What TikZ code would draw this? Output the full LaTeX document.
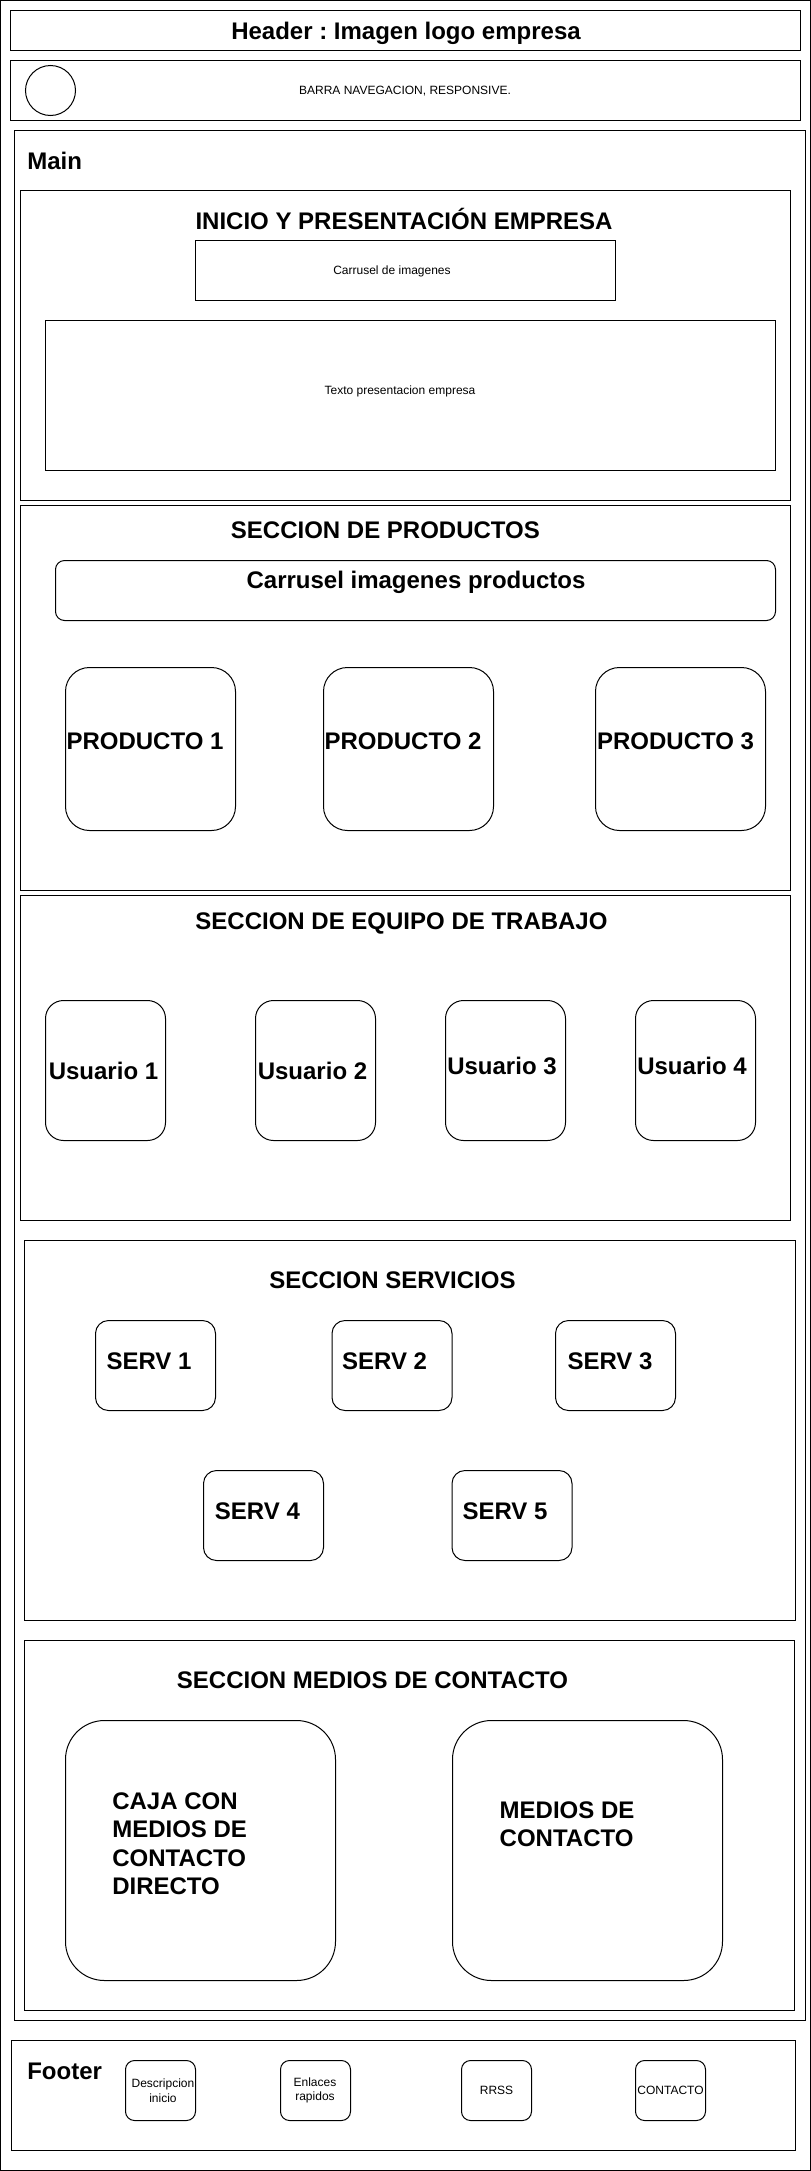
\documentclass[tikz,border=0pt]{standalone}
\usepackage{fontspec}
\setmainfont{Liberation Sans}
\frenchspacing
\newcommand\mkbox[6]{\node[frame, rounded corners=#6, minimum width={(#4-#2)*1pt}, minimum height={(#5-#3)*1pt}] (#1) at ({(#2+#4)/2},{(#3+#5)/2}) {};}
\tikzset{
  frame/.style={draw=black, line width=1pt, inner sep=0pt, outer sep=0pt, fill=none},
  big/.style={font=\fontsize{24}{28.5}\selectfont\bfseries, inner sep=0pt, outer sep=0pt},
  small/.style={font=\fontsize{12}{14.4}\selectfont, inner sep=0pt, outer sep=0pt},
}
\begin{document}
\begin{tikzpicture}[x=1pt, y=-1pt]
\useasboundingbox (0,0) rectangle (811,2171);
\fill[white] (0,0) rectangle (811,2171);
\mkbox{page}{0.5}{0.5}{810.5}{2170.5}{0pt}
% header
\mkbox{header}{10.5}{10.5}{800.5}{50.5}{0pt}
\node[big, anchor=base] (headert) at (406,39.3) {Header : Imagen logo empresa};
% nav
\mkbox{nav}{10.5}{60.5}{800.5}{120.5}{0pt}
\node[frame, circle, minimum size=50pt] (logo) at (50.5,90.5) {};
\node[small, anchor=base] (navt) at (405,94.8) {BARRA NAVEGACION, RESPONSIVE.};
% main
\mkbox{main}{14.5}{130.5}{805.5}{2020.5}{0pt}
\node[big, anchor=base west] (maint) at (27.3,169.3) {Main};
% section 1
\mkbox{sec1}{20.5}{190.5}{790.5}{500.5}{0pt}
\node[big, anchor=base] (sec1t) at (404,229) {INICIO Y PRESENTACIÓN EMPRESA};
\mkbox{carr}{195.5}{240.5}{615.5}{300.5}{0pt}
\node[small, anchor=base] (carrt) at (392,274.3) {Carrusel de imagenes};
\mkbox{texto}{45.5}{320.5}{775.5}{470.5}{0pt}
\node[small, anchor=base] (textot) at (400,394) {Texto presentacion empresa};
% section 2
\mkbox{sec2}{20.5}{505.5}{790.5}{890.5}{0pt}
\node[big, anchor=base] (sec2t) at (385.4,538.5) {SECCION DE PRODUCTOS};
\mkbox{carrp}{55.5}{560.5}{775.5}{620.5}{9pt}
\node[big, anchor=base] (carrpt) at (416,588.3) {Carrusel imagenes productos};
\mkbox{p1}{65.5}{667.5}{235.5}{830.5}{24pt}
\mkbox{p2}{323.5}{667.5}{493.5}{830.5}{24pt}
\mkbox{p3}{595.5}{667.5}{765.5}{830.5}{24pt}
\node[big, anchor=base] (p1t) at (145,749.3) {PRODUCTO 1};
\node[big, anchor=base] (p2t) at (403,749.3) {PRODUCTO 2};
\node[big, anchor=base] (p3t) at (675.6,749.3) {PRODUCTO 3};
% section 3
\mkbox{sec3}{20.5}{895.5}{790.5}{1220.5}{0pt}
\node[big, anchor=base] (sec3t) at (401.5,929.2) {SECCION DE EQUIPO DE TRABAJO};
\mkbox{u1}{45.5}{1000.5}{165.5}{1140.5}{18pt}
\mkbox{u2}{255.5}{1000.5}{375.5}{1140.5}{18pt}
\mkbox{u3}{445.5}{1000.5}{565.5}{1140.5}{18pt}
\mkbox{u4}{635.5}{1000.5}{755.5}{1140.5}{18pt}
\node[big, anchor=base] (u1t) at (103.5,1079.3) {Usuario 1};
\node[big, anchor=base] (u2t) at (312.5,1079.3) {Usuario 2};
\node[big, anchor=base] (u3t) at (502,1074) {Usuario 3};
\node[big, anchor=base] (u4t) at (692,1074) {Usuario 4};
% section 4
\mkbox{sec4}{24.5}{1240.5}{795.5}{1620.5}{0pt}
\node[big, anchor=base] (sec4t) at (392.4,1288.5) {SECCION SERVICIOS};
\mkbox{s1}{95.5}{1320.5}{215.5}{1410.5}{13pt}
\mkbox{s2}{332}{1320.5}{452}{1410.5}{13pt}
\mkbox{s3}{555.5}{1320.5}{675.5}{1410.5}{13pt}
\mkbox{s4}{203.5}{1470.5}{323.5}{1560.5}{13pt}
\mkbox{s5}{452}{1470.5}{572}{1560.5}{13pt}
\node[big, anchor=base] (s1t) at (149,1369.3) {SERV 1};
\node[big, anchor=base] (s2t) at (384.6,1369.3) {SERV 2};
\node[big, anchor=base] (s3t) at (610,1369.3) {SERV 3};
\node[big, anchor=base] (s4t) at (257.4,1519.3) {SERV 4};
\node[big, anchor=base] (s5t) at (505,1519.3) {SERV 5};
% section 5
\mkbox{sec5}{24.5}{1640.5}{794.5}{2010.5}{0pt}
\node[big, anchor=base] (sec5t) at (372.5,1688.5) {SECCION MEDIOS DE CONTACTO};
\mkbox{ca}{65.5}{1720.5}{335.5}{1980.5}{39pt}
\mkbox{cb}{452.5}{1720.5}{722.5}{1980.5}{39pt}
\node[big, anchor=north west, align=left] (cat) at (112.3,1792.7) {CAJA CON\\MEDIOS DE\\CONTACTO\\DIRECTO};
\node[big, anchor=north west, align=left] (cbt) at (499.7,1801.7) {MEDIOS DE\\CONTACTO};
% footer
\mkbox{footer}{11.5}{2040.5}{795.5}{2150.5}{0pt}
\node[big, anchor=base west] (footert) at (27.3,2079) {Footer};
\mkbox{f1}{125.5}{2060.5}{195.5}{2120.5}{9pt}
\mkbox{f2}{280.5}{2060.5}{350.5}{2120.5}{9pt}
\mkbox{f3}{461.5}{2060.5}{531.5}{2120.5}{9pt}
\mkbox{f4}{635.5}{2060.5}{705.5}{2120.5}{9pt}
\node[small, align=center] (f1t) at (163,2090.5) {Descripcion\\inicio};
\node[small, align=center] (f2t) at (315,2090.5) {Enlaces\\rapidos};
\node[small] (f3t) at (496.5,2090.5) {RRSS};
\node[small] (f4t) at (670.5,2090.5) {CONTACTO};
\end{tikzpicture}
\end{document}
